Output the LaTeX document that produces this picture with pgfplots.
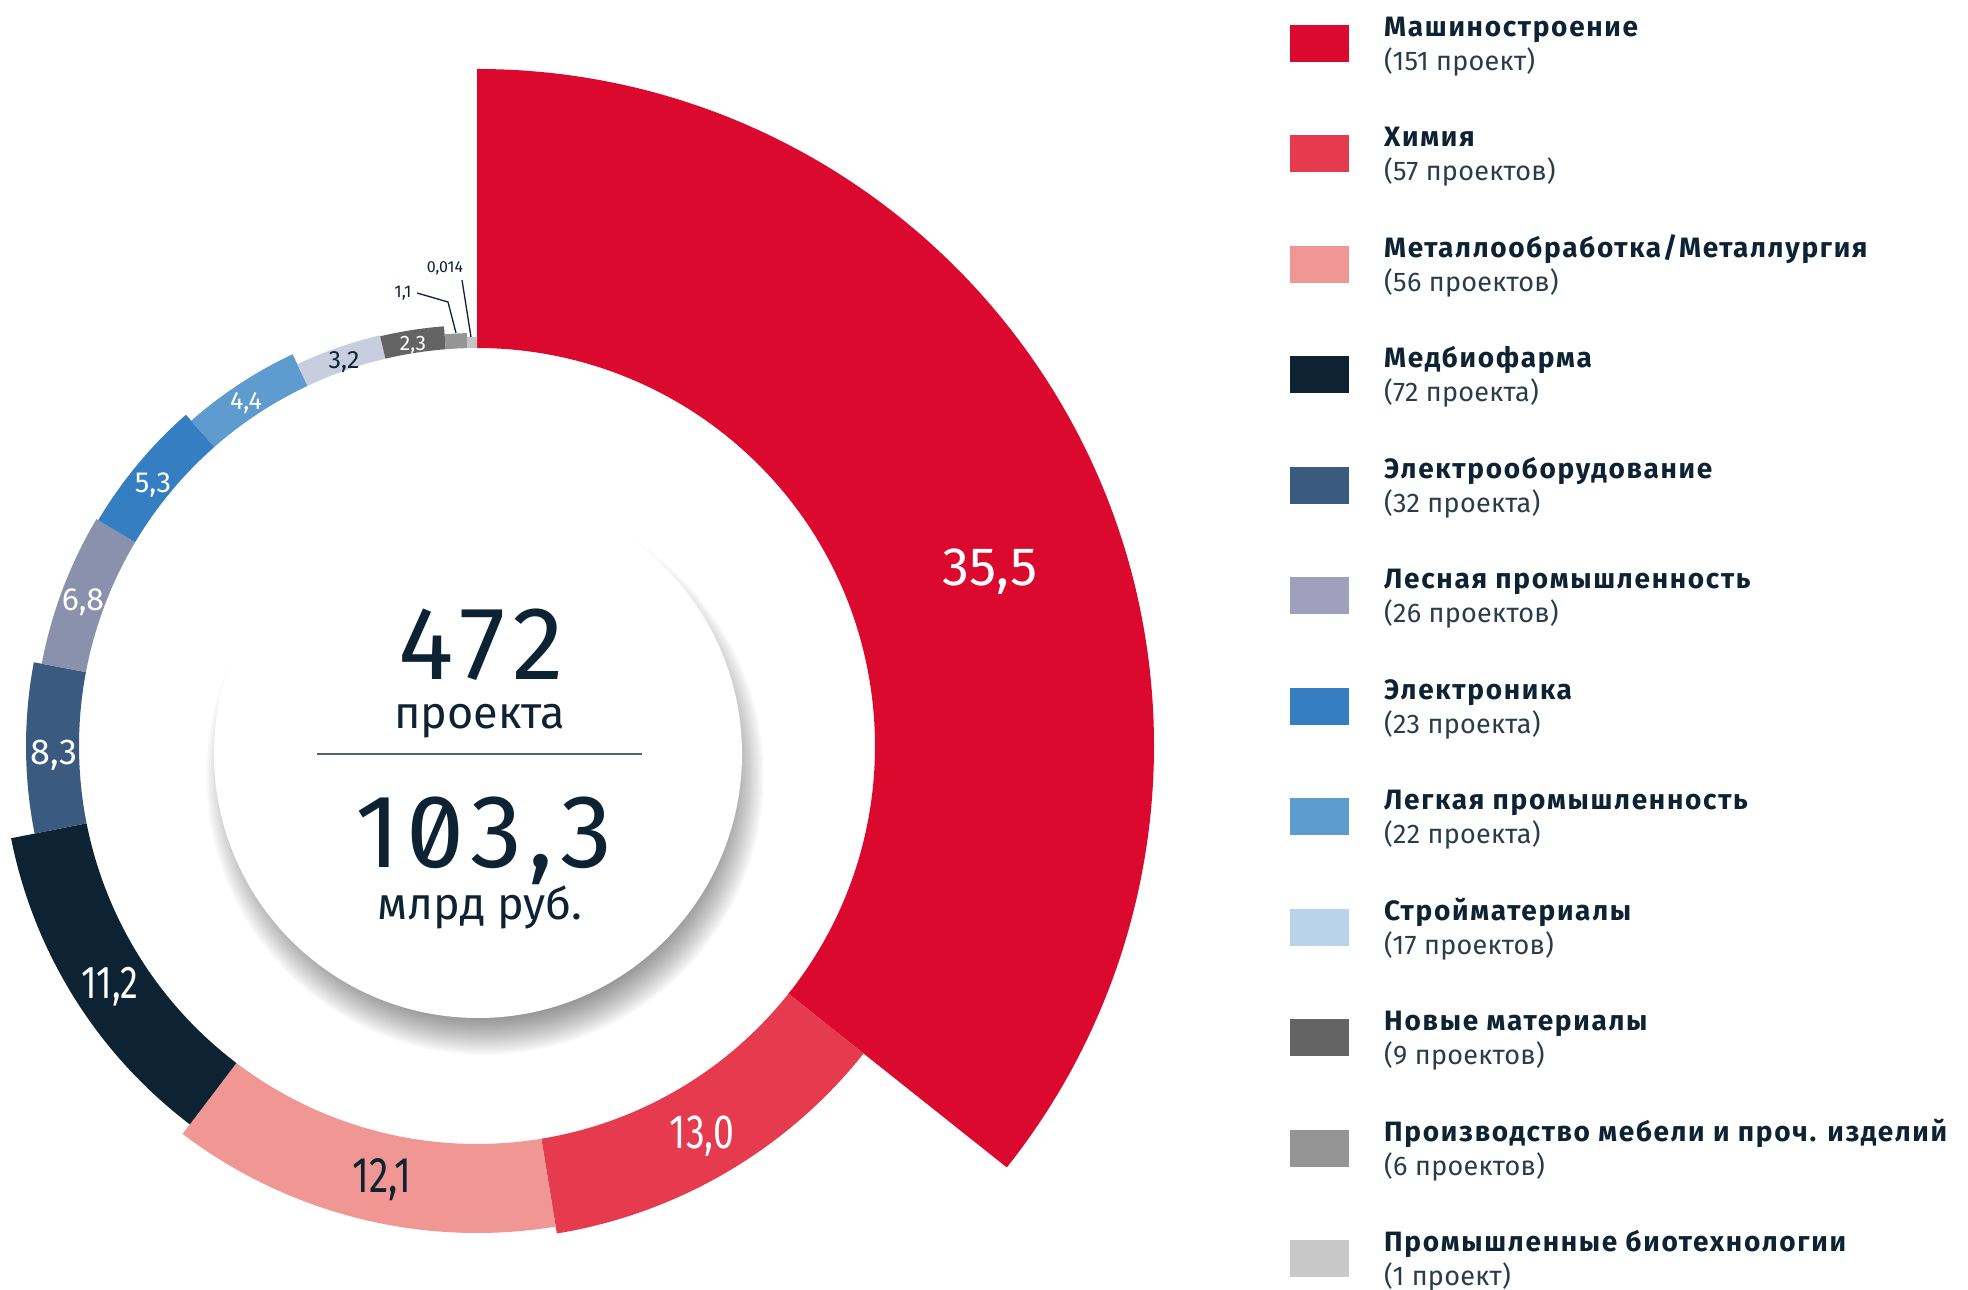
\documentclass[border=0pt]{standalone}
\usepackage{pgfplots}
\pgfplotsset{compat=1.18}
\usepackage{pgfplotstable}
\usepackage{graphicx}
\usepackage{fontspec}
\setmainfont{Fira Sans}
\newfontfamily\numfontA{Fira Sans}[RawFeature=+zero, LetterSpace=8]
\newfontfamily\numfontB{Fira Sans}[RawFeature=+zero, LetterSpace=6]
\newfontfamily\legfont{Fira Sans}[LetterSpace=6]
\newfontfamily\subfont{Fira Sans}[LetterSpace=1]

\pgfdeclareplotmark{nothing}{}

% ring colours
\definecolor{s1}{HTML}{DB092E}
\definecolor{s2}{HTML}{E63B4F}
\definecolor{s3}{HTML}{F09693}
\definecolor{s4}{HTML}{0D2233}
\definecolor{s5}{HTML}{3A5A80}
\definecolor{s6}{HTML}{8A91AC}
\definecolor{s7}{HTML}{357EC1}
\definecolor{s8}{HTML}{5E9BCF}
\definecolor{s9}{HTML}{C8CEDF}
\definecolor{s10}{HTML}{646464}
\definecolor{s11}{HTML}{959595}
\definecolor{s12}{HTML}{C4C4C4}
% legend colours
\definecolor{l1}{HTML}{DB092E}
\definecolor{l2}{HTML}{E63B4F}
\definecolor{l3}{HTML}{F09693}
\definecolor{l4}{HTML}{0D2233}
\definecolor{l5}{HTML}{3A5A80}
\definecolor{l6}{HTML}{A0A0BC}
\definecolor{l7}{HTML}{357EC1}
\definecolor{l8}{HTML}{5E9BCF}
\definecolor{l9}{HTML}{BAD2EB}
\definecolor{l10}{HTML}{646464}
\definecolor{l11}{HTML}{959595}
\definecolor{l12}{HTML}{C8C8C8}
\definecolor{cDark}{HTML}{0D2233}
\definecolor{cSub}{HTML}{2A3B4A}
\colorlet{lab0}{white}
\colorlet{lab1}{cDark}

% sectors: value (bln rub), centre, start/end angle (deg), inner/outer radius (px), colour index
\pgfplotstableread{
value cx cy a0 a1 rin rout ci
35.5 477 544 90 -38.5 398 677 1
13.0 477 544 -38.5 -80.7 398 494 2
12.1 477 544 -80.7 -127.2 398 487 3
11.2 477 544 -127.2 -168.8 398 475 4
8.3 477 544 -168.8 -190.7 398 451 5
6.8 477 544 -190.7 -210.8 398 443 6
5.3 477 544 -210.8 -228.7 398 441 7
4.4 477 544 -228.7 -244.8 398 433 8
3.2 477 544 -244.8 -256.7 398 422 9
2.3 477 544 -256.7 -265.5 398 421 10
1.1 477 544 -265.5 -268.6 398 413 11
0.014 477 544 -268.6 -270 398 409 12
}\sectors

\pgfplotstableread{
x y lbl fs sx lc
990 704.5 35,5 54 1 0
702 141.5 13,0 48 0.78 0
382 97.5 12,1 50 0.78 1
110 291 11,2 46 0.78 0
54 525.5 8,3 36 1 0
83 679 6,8 32 1 0
153 797 5,3 29 1 0
246 880.5 4,4 25 1 0
344 921.5 3,2 25 1 1
413 939 2,3 21 1 0
403 992 1,1 17 1 1
445 1017 0,014 16 1 1
}\labels

\pgfplotstableread{
x y ci
1319.5 1246.5 1
1319.5 1136.5 2
1319.5 1025.5 3
1319.5 915.5 4
1319.5 804.5 5
1319.5 694.5 6
1319.5 583.5 7
1319.5 473.5 8
1319.5 362.5 9
1319.5 252.5 10
1319.5 141.5 11
1319.5 31.5 12
}\legendtab

\newcommand\legentry[3]{%
  \node[anchor=base west, inner sep=0pt, text=cDark, font=\legfont\fontsize{28bp}{28bp}\selectfont\bfseries] at (1384bp,#1bp+7bp) {#2};
  \node[anchor=base west, inner sep=0pt, text=cSub, font=\subfont\fontsize{27bp}{27bp}\selectfont] at (1384bp,#1bp-27bp) {#3};}

\begin{document}
\begin{tikzpicture}
% shadow of the centre disc
\foreach \k in {0,...,15}{
  \pgfmathsetmacro\rr{244+2.3*\k}
  \fill[black, opacity=0.032] (485bp,514bp) circle[radius=\rr bp];
}
\fill[white] (478bp,536bp) circle[radius=264bp];

\begin{axis}[
  x=1bp, y=1bp, xmin=0, xmax=1968, ymin=0, ymax=1290,
  at={(0,0)}, anchor=south west, scale only axis, hide axis, clip=false]

% ring sectors
\addplot[scatter, only marks, mark=nothing, draw=none,
  visualization depends on={\thisrow{a0}\as\azero},
  visualization depends on={\thisrow{a1}\as\aone},
  visualization depends on={\thisrow{rin}\as\rinn},
  visualization depends on={\thisrow{rout}\as\rout},
  visualization depends on={\thisrow{ci}\as\ci},
  scatter/@pre marker code/.code={%
    \pgfmathtruncatemacro\cidx{\ci}%
    \fill[fill=s\cidx] (\azero:\rout bp) arc[start angle=\azero, end angle=\aone, radius=\rout bp]
      -- (\aone:\rinn bp) arc[start angle=\aone, end angle=\azero, radius=\rinn bp] -- cycle;
    \scope},
  scatter/@post marker code/.code={\endscope}]
  table[x=cx, y=cy] {\sectors};

% value labels
\addplot[scatter, only marks, mark=nothing, draw=none,
  point meta=explicit symbolic,
  visualization depends on={\thisrow{fs}\as\fs},
  visualization depends on={\thisrow{sx}\as\sx},
  visualization depends on={\thisrow{lc}\as\lc},
  scatter/@pre marker code/.code={%
    \pgfmathtruncatemacro\lci{\lc}%
    \node[anchor=base, inner sep=0pt, text=lab\lci, font=\fontsize{\fs bp}{\fs bp}\selectfont] at (0,0) {\scalebox{\sx}[1]{\pgfplotspointmeta}};
    \scope},
  scatter/@post marker code/.code={\endscope}]
  table[x=x, y=y, meta=lbl] {\labels};

% leader lines
\addplot[cDark, line width=1.3bp, mark=none] coordinates {(417,997) (448,988) (456,957)};
\addplot[cDark, line width=1.3bp, mark=none] coordinates {(462,1010) (471,953)};

% legend swatches
\addplot[scatter, only marks, mark=nothing, draw=none,
  visualization depends on={\thisrow{ci}\as\ci},
  scatter/@pre marker code/.code={%
    \pgfmathtruncatemacro\cidx{\ci}%
    \fill[fill=l\cidx] (-29.5bp,-18.5bp) rectangle (29.5bp,18.5bp);
    \scope},
  scatter/@post marker code/.code={\endscope}]
  table[x=x, y=y] {\legendtab};
\end{axis}

% legend texts
\legentry{1246.5}{Машиностроение}{(151 проект)}
\legentry{1136.5}{Химия}{(57 проектов)}
\legentry{1025.5}{Металлообработка/Металлургия}{(56 проектов)}
\legentry{915.5}{Медбиофарма}{(72 проекта)}
\legentry{804.5}{Электрооборудование}{(32 проекта)}
\legentry{694.5}{Лесная промышленность}{(26 проектов)}
\legentry{583.5}{Электроника}{(23 проекта)}
\legentry{473.5}{Легкая промышленность}{(22 проекта)}
\legentry{362.5}{Стройматериалы}{(17 проектов)}
\legentry{252.5}{Новые материалы}{(9 проектов)}
\legentry{141.5}{Производство мебели и проч. изделий}{(6 проектов)}
\legentry{31.5}{Промышленные биотехнологии}{(1 проект)}

% centre texts
\node[anchor=base, inner sep=0pt, text=cDark, font=\numfontA\fontsize{104bp}{104bp}\selectfont] at (481bp,610bp) {472};
\node[anchor=base, inner sep=0pt, text=cDark, font=\fontsize{45bp}{45bp}\selectfont] at (479.5bp,561bp) {проекта};
\draw[cDark!70, line width=1.5bp] (317bp,536bp) -- (642bp,536bp);
\node[anchor=base, inner sep=0pt, text=cDark, font=\numfontB\fontsize{104bp}{104bp}\selectfont] at (484bp,422bp) {103,3};
\node[anchor=base, inner sep=0pt, text=cDark, font=\fontsize{45bp}{45bp}\selectfont] at (480bp,370bp) {млрд руб.};

\pgfresetboundingbox
\path[use as bounding box] (0,0) rectangle (1968bp,1290bp);
\end{tikzpicture}
\end{document}
